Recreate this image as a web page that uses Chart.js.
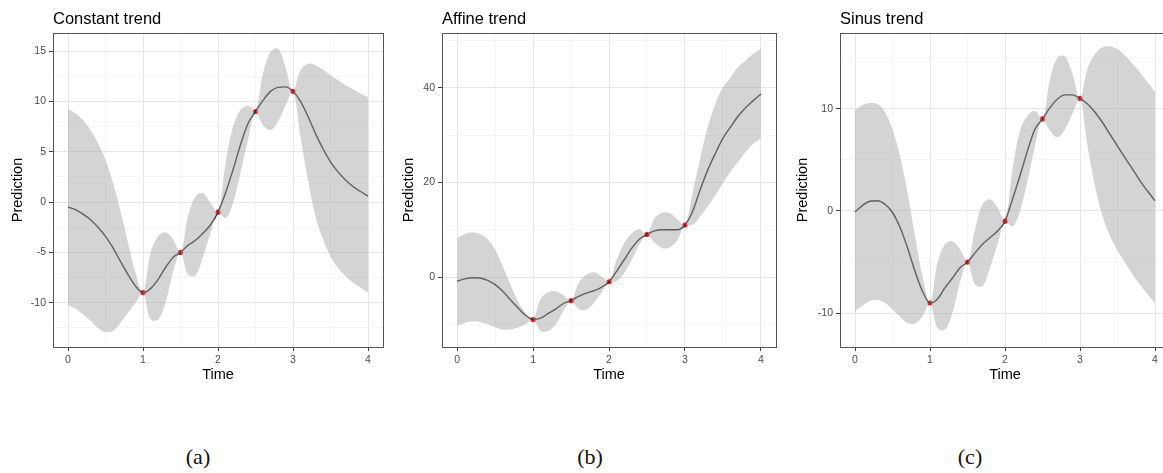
<!DOCTYPE html>
<html>
<head>
<meta charset="utf-8">
<script src="https://cdn.jsdelivr.net/npm/chart.js@4.4.1/dist/chart.umd.min.js"></script>
<style>
  body { margin: 0; background: #fff; width: 1163px; height: 473px; overflow: hidden; position: relative; }
  .panel { position: absolute; top: 0; height: 400px; }
  .caption { position: absolute; top: 444px; font: 22px "Liberation Serif", serif; color: #111; transform: translateX(-50%); }
</style>
</head>
<body>
<div class="panel" style="left:0;width:390px"><canvas id="chartA"></canvas></div>
<div class="panel" style="left:390px;width:390px"><canvas id="chartB"></canvas></div>
<div class="panel" style="left:780px;width:400px"><canvas id="chartC"></canvas></div>
<div class="caption" style="left:198px">(a)</div>
<div class="caption" style="left:590px">(b)</div>
<div class="caption" style="left:970px">(c)</div>
<script>
// prediction grid (Time)
const timeGrid = [0, 0.1, 0.2, 0.3, 0.4, 0.5, 0.6, 0.7, 0.8, 0.9, 1, 1.1, 1.2, 1.3, 1.4, 1.5, 1.6, 1.7, 1.8, 1.9, 2,
  2.1, 2.2, 2.3, 2.4, 2.5, 2.6, 2.7, 2.8, 2.9, 3, 3.1, 3.2, 3.3, 3.4, 3.5, 3.6, 3.7, 3.8, 3.9, 4];

// observations (red points)
const obsTime = [1, 1.5, 2, 2.5, 3];
const obsValue = [-9, -5, -1, 9, 11];

// (a) constant trend
const constMean = [-0.5, -0.75, -1.2, -1.75, -2.5, -3.4, -4.55, -5.9, -7.2, -8.35, -9, -8.6, -7.7, -6.5, -5.5, -5, -4.3, -3.8, -3.1, -2.25, -1,
  0.9, 3.2, 5.7, 7.8, 9, 10.1, 11, 11.4, 11.45, 11, 10, 8.5, 6.8, 5.3, 4, 3, 2.2, 1.55, 1.05, 0.6];
const constUpper = [9.25, 8.8, 8.15, 7.15, 5.85, 4.2, 1.9, -0.9, -4.05, -7, -9, -5.05, -3.4, -3, -3.7, -5, -1.4, 0.55, 0.9, -0.1, -1,
  3.85, 7.5, 9.15, 9.6, 9, 12.8, 14.9, 15.25, 13.4, 11, 13.1, 13.75, 13.6, 13.15, 12.6, 12.1, 11.6, 11.2, 10.8, 10.45];
const constLower = [-10.25, -10.6, -11.15, -11.8, -12.5, -12.9, -12.8, -12, -11, -10, -9, -11.65, -11.7, -10, -7, -5, -7.2, -7.3, -5.4, -3.1, -1,
  -1.6, -0.1, 2.9, 6.2, 9, 7.65, 7.15, 8, 9.6, 11, 6.5, 2.2, -1.4, -3.7, -5.4, -6.55, -7.35, -8, -8.5, -9];

// (b) affine trend
const affineMean = [-0.9, -0.4, -0.15, -0.2, -0.7, -1.6, -3, -4.8, -6.5, -8.1, -9, -8.7, -7.7, -6.75, -5.6, -5, -4.1, -3.4, -2.9, -2.2, -1,
  1.2, 3.65, 6.1, 8, 9, 9.75, 10, 10, 10, 11, 13.8, 18.4, 22.6, 26.1, 29.3, 31.7, 34, 35.8, 37.3, 38.7];
const affineUpper = [8.2, 9.1, 9.4, 9.1, 8, 5.75, 2.25, -1.6, -5.1, -7.6, -9, -4.6, -3.2, -3, -3.85, -5, -1.25, 0.5, 1, 0.15, -1,
  3.65, 7.15, 9.25, 10.1, 9, 12.4, 13.6, 13.5, 12.2, 11, 17.7, 25, 31.7, 36.6, 40.1, 42.2, 44.4, 45.75, 47.2, 48.2];
const affineLower = [-10.25, -9.7, -9.35, -9.5, -10, -10.6, -11.1, -11.1, -10.7, -10, -9, -11.4, -11.4, -10, -7.2, -5, -6.75, -6.9, -5.5, -3.35, -1,
  -0.9, 0.85, 3.65, 6.8, 9, 7.3, 6.1, 6.3, 7.85, 11, 11, 12.8, 14.9, 17.3, 19.8, 22.25, 24.35, 26.45, 28.2, 29.3];

// (c) sinus trend
const sinusMean = [-0.1, 0.55, 0.95, 1, 0.65, -0.15, -1.6, -3.6, -5.9, -7.85, -9, -8.6, -7.5, -6.55, -5.55, -5, -4.1, -3.25, -2.6, -1.95, -1,
  1.15, 3.45, 5.9, 8, 9, 10.1, 10.95, 11.35, 11.35, 11, 10.45, 9.65, 8.65, 7.5, 6.35, 5.2, 4.1, 2.95, 1.95, 1];
const sinusUpper = [9.8, 10.35, 10.55, 10.45, 9.65, 8, 5.4, 1.8, -2.45, -6.4, -9, -5.05, -3.25, -2.95, -3.75, -5, -1.8, 0.65, 1.15, 0.35, -1,
  4.1, 7.85, 9.3, 9.8, 9, 12.9, 15, 15.1, 13.4, 11, 13.9, 15.35, 16, 16.1, 15.8, 15.2, 14.4, 13.55, 12.6, 11.6];
const sinusLower = [-9.8, -9.25, -8.8, -8.7, -9, -9.65, -10.35, -10.95, -11, -10.3, -9, -11.45, -11.6, -9.95, -7, -5, -7.2, -7.35, -5.55, -3.25, -1,
  -1.5, 0, 2.95, 6.35, 9, 7.85, 7.2, 8, 9.5, 11, 6.35, 2.45, -0.5, -2.45, -3.9, -5.05, -6.2, -7.2, -8.15, -9];

const toXY = (ys) => timeGrid.map((t, i) => ({x: t, y: ys[i]}));

// panel border + title drawn at the panel's left edge, like ggplot
const panelDeco = {
  id: 'panelDeco',
  afterDraw(chart, args, opts) {
    const {ctx, chartArea: a} = chart;
    ctx.save();
    ctx.strokeStyle = '#555';
    ctx.lineWidth = 1;
    ctx.strokeRect(Math.round(a.left) + 0.5, Math.round(a.top) + 0.5, Math.round(a.right - a.left), Math.round(a.bottom - a.top));
    ctx.fillStyle = '#000';
    ctx.font = '16.5px "Liberation Sans", Arial, sans-serif';
    ctx.textBaseline = 'alphabetic';
    ctx.fillText(opts.text, a.left, 24);
    ctx.restore();
  }
};

function makePanel(id, title, mean, upper, lower, y, pad) {
  const isMajorX = (v) => Math.abs(v - Math.round(v)) < 1e-6;
  const isMajorY = (v) => Math.abs(v / y.major - Math.round(v / y.major)) < 1e-6;
  const gridStyle = (major) => ({
    color: (c) => major(c.tick.value) ? '#E6E6E6' : '#F2F2F2',
    lineWidth: (c) => major(c.tick.value) ? 1 : 0.7,
    tickColor: (c) => major(c.tick.value) ? '#444' : 'rgba(0,0,0,0)',
    tickLength: 4
  });
  const tickFont = {family: '"Liberation Sans", Arial, sans-serif', size: 10.5};
  const titleFont = {family: '"Liberation Sans", Arial, sans-serif', size: 14.5};

  return new Chart(document.getElementById(id), {
    type: 'line',
    data: {
      datasets: [
        {label: 'upper', data: toXY(upper), borderWidth: 0, pointRadius: 0,
          backgroundColor: 'rgba(165,165,165,0.48)', fill: '+1', tension: 0.35},
        {label: 'lower', data: toXY(lower), borderWidth: 0, pointRadius: 0, fill: false, tension: 0.35},
        {label: 'mean', data: toXY(mean), borderColor: '#222', borderWidth: 1.4, pointRadius: 0,
          fill: false, cubicInterpolationMode: 'monotone'},
        {label: 'obs', type: 'scatter', data: obsTime.map((t, i) => ({x: t, y: obsValue[i]})),
          pointRadius: 2.6, pointBackgroundColor: '#FF1A1A', pointBorderWidth: 0}
      ]
    },
    options: {
      responsive: true,
      maintainAspectRatio: false,
      animation: false,
      layout: {padding: {left: pad.left, right: pad.right, top: 33, bottom: 16}},
      plugins: {legend: {display: false}, tooltip: {enabled: false}, panelDeco: {text: title}},
      scales: {
        x: {
          type: 'linear', min: -0.2, max: 4.2,
          border: {display: false},
          grid: gridStyle(isMajorX),
          ticks: {stepSize: 0.5, includeBounds: false, autoSkip: false, maxRotation: 0, padding: 3,
            color: '#4D4D4D', font: tickFont, callback: (v) => isMajorX(v) ? String(Math.round(v)) : ''},
          title: {display: true, text: 'Time', color: '#000', font: titleFont, padding: 0},
          afterFit: (s) => { s.height = 37; }
        },
        y: {
          type: 'linear', min: y.min, max: y.max,
          border: {display: false},
          grid: gridStyle(isMajorY),
          ticks: {stepSize: y.minor, includeBounds: false, autoSkip: false, padding: 3,
            color: '#4D4D4D', font: tickFont, callback: (v) => isMajorY(v) ? String(v) : ''},
          title: {display: true, text: 'Prediction', color: '#000', font: titleFont, padding: 0},
          afterFit: (s) => { s.width = pad.axis; }
        }
      }
    },
    plugins: [panelDeco]
  });
}

makePanel('chartA', 'Constant trend', constMean, constUpper, constLower,
  {min: -14.4, max: 16.8, minor: 2.5, major: 5}, {left: 9, right: 7, axis: 44});
makePanel('chartB', 'Affine trend', affineMean, affineUpper, affineLower,
  {min: -14.8, max: 51.6, minor: 10, major: 20}, {left: 10, right: 3, axis: 42});
makePanel('chartC', 'Sinus trend', sinusMean, sinusUpper, sinusLower,
  {min: -13.3, max: 17.4, minor: 5, major: 10}, {left: 14, right: 10, axis: 46});
</script>
</body>
</html>
